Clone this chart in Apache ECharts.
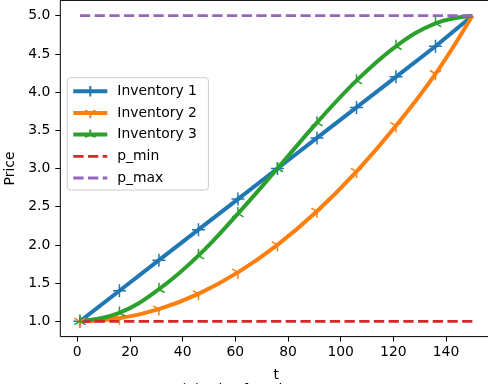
<!DOCTYPE html>
<html>
<head>
<meta charset="utf-8">
<script src="https://cdn.jsdelivr.net/npm/echarts@6/dist/echarts.min.js"></script>
<style>
  html, body { margin: 0; padding: 0; background: #fff; }
  #chart { width: 488px; height: 384px; }
</style>
</head>
<body>
<div id="chart"></div>
<script>
// time steps where the markers sit (last point has no marker)
var tValues = [1, 16, 31, 46, 61, 76, 91, 106, 121, 136, 150];
var inventory1 = [1.0, 1.4, 1.8, 2.2, 2.6, 3.0, 3.4, 3.8, 4.2, 4.6, 5.0];
var inventory2 = [1.0, 1.04, 1.16, 1.36, 1.64, 2.0, 2.44, 2.96, 3.56, 4.24, 5.0];
var inventory3 = [1.0, 1.11, 1.42, 1.86, 2.41, 3.0, 3.6, 4.15, 4.6, 4.9, 5.0];
var pMin = [1.0, 1.0];
var pMax = [5.0, 5.0];
var pRange = [1, 150];
var xTicks = [0, 20, 40, 60, 80, 100, 120, 140];
var yTicks = [1.0, 1.5, 2.0, 2.5, 3.0, 3.5, 4.0, 4.5, 5.0];

var FONT = 'DejaVu Sans';

// matplotlib-like marker shapes
var plusMarker = 'path://M0,-1L0,1M-1,0L1,0';
var triDown = 'path://M0,-1M0,0L0,1M0,0L-0.866,-0.5M0,0L0.866,-0.5';
var triUp = 'path://M0,1M0,0L0,-1M0,0L-0.866,0.5M0,0L0.866,0.5';

function pairs(xs, ys) {
    var out = [];
    for (var i = 0; i < xs.length; i++) {
        var item = {value: [xs[i], ys[i]]};
        if (i === xs.length - 1) item.symbol = 'none';
        out.push(item);
    }
    return out;
}

function curve(name, color, symbol, ys, smooth) {
    return {
        name: name,
        type: 'line',
        smooth: smooth,
        symbol: symbol,
        symbolSize: 13,
        symbolKeepAspect: true,
        showAllSymbol: true,
        lineStyle: {color: color, width: 4},
        itemStyle: {color: 'rgba(0,0,0,0)', borderColor: color, borderWidth: 1.5},
        emphasis: {disabled: true},
        data: pairs(tValues, ys)
    };
}

function bound(name, color, ys) {
    return {
        name: name,
        type: 'line',
        symbol: 'none',
        lineStyle: {color: color, width: 2.8, type: [10.3, 4.4]},
        itemStyle: {color: color},
        emphasis: {disabled: true},
        data: [[pRange[0], ys[0]], [pRange[1], ys[1]]]
    };
}

var myChart = echarts.init(document.getElementById('chart'), null, {renderer: 'canvas'});

var option = {
    animation: false,
    backgroundColor: '#fff',
    textStyle: {fontFamily: FONT},
    grid: {
        left: 60.3, right: -4, top: 0.42, bottom: 47.4,
        outerBoundsMode: 'none',
        containLabel: false,
        show: true, borderColor: '#000', borderWidth: 1, backgroundColor: 'transparent'
    },
    legend: {
        orient: 'vertical',
        left: 67.3,
        top: 77.7,
        padding: [6.5, 11.5, 5, 4],
        itemWidth: 34,
        itemHeight: 13,
        itemGap: 7.7,
        backgroundColor: 'rgba(255,255,255,0.8)',
        borderColor: '#cccccc',
        borderWidth: 1,
        borderRadius: 3,
        textStyle: {fontFamily: FONT, fontSize: 13.9, color: '#000', padding: [0, 0, 0, 5]},
        data: [
            {name: 'Inventory 1', lineStyle: {width: 4}},
            {name: 'Inventory 2', lineStyle: {width: 4}},
            {name: 'Inventory 3', lineStyle: {width: 4}},
            {name: 'p_min', itemStyle: {opacity: 0}, lineStyle: {width: 2.8}},
            {name: 'p_max', itemStyle: {opacity: 0}, lineStyle: {width: 2.8}}
        ]
    },
    xAxis: {
        type: 'value',
        min: -6.45,
        max: 157.45,
        name: 't',
        nameLocation: 'middle',
        nameGap: 31.5,
        nameTextStyle: {fontFamily: FONT, fontSize: 13.9, color: '#000'},
        axisLine: {show: false, onZero: false},
        axisTick: {show: true, inside: false, length: 5, customValues: xTicks,
                   lineStyle: {color: '#000', width: 1}},
        axisLabel: {customValues: xTicks, margin: 9, fontFamily: FONT, fontSize: 13.9, color: '#000'},
        splitLine: {show: false}
    },
    yAxis: {
        type: 'value',
        min: 0.8,
        max: 5.2,
        name: 'Price',
        nameLocation: 'middle',
        nameGap: 36.5,
        nameTextStyle: {fontFamily: FONT, fontSize: 13.9, color: '#000'},
        axisLine: {show: false, onZero: false},
        axisTick: {show: true, inside: false, length: 5, customValues: yTicks,
                   lineStyle: {color: '#000', width: 1}},
        axisLabel: {
            customValues: yTicks, margin: 10, fontFamily: FONT, fontSize: 13.9, color: '#000',
            formatter: function (v) { return v.toFixed(1); }
        },
        splitLine: {show: false}
    },
    graphic: [{
        type: 'text',
        left: 'center',
        top: 383,
        style: {text: '(a) Price functions', font: '13.9px "DejaVu Sans"', fill: '#000'}
    }],
    series: [
        curve('Inventory 1', '#1f77b4', plusMarker, inventory1, false),
        curve('Inventory 2', '#ff7f0e', triDown, inventory2, 0.4),
        curve('Inventory 3', '#2ca02c', triUp, inventory3, 0.4),
        bound('p_min', '#d62728', pMin),
        bound('p_max', '#9467bd', pMax)
    ]
};

myChart.setOption(option);
</script>
</body>
</html>
